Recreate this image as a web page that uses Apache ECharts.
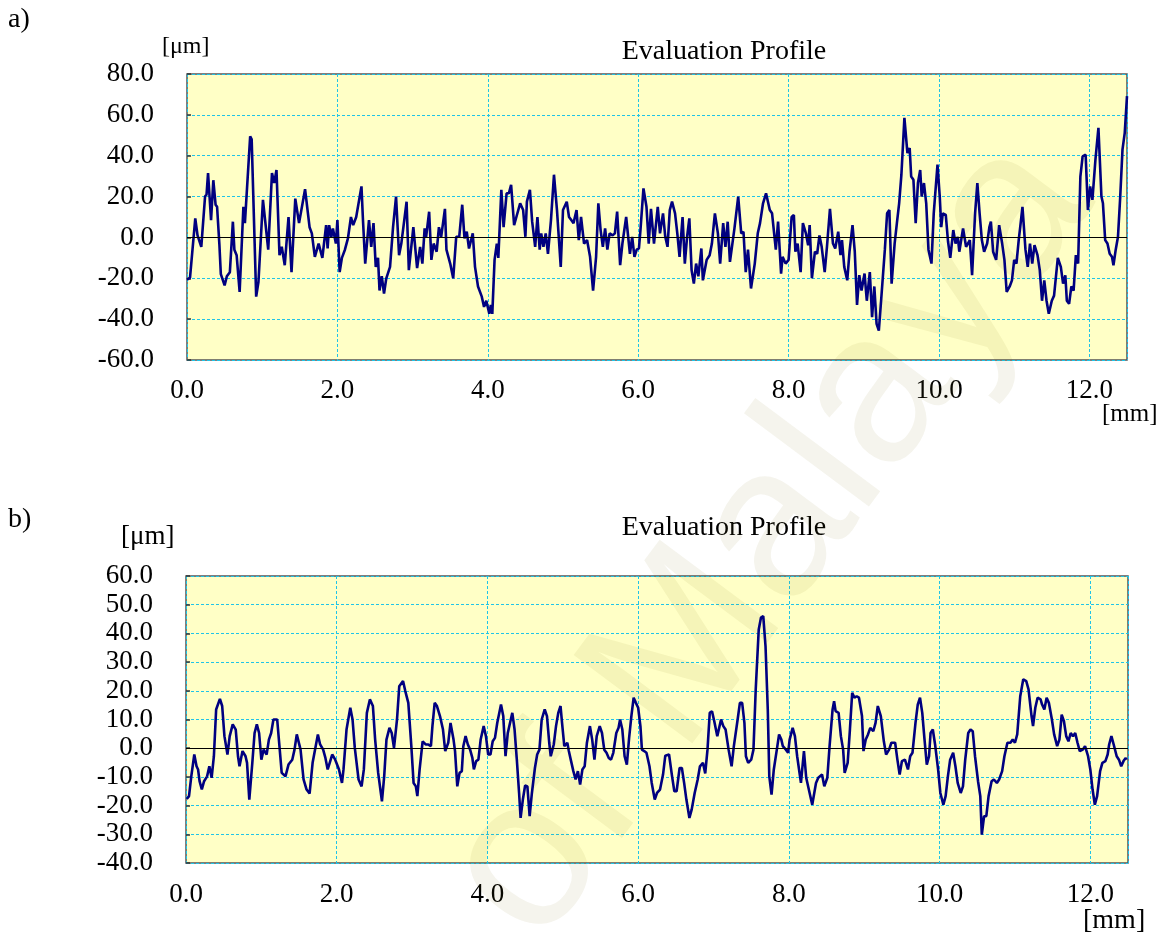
<!DOCTYPE html>
<html><head><meta charset="utf-8">
<script src="https://cdn.jsdelivr.net/npm/echarts@6/dist/echarts.min.js"></script>
<style>html,body{margin:0;padding:0;background:#fff}#c{width:1173px;height:937px}</style>
</head><body><div id="c"></div>
<script>
// Panel a) evaluation profile
const aX = [0.00,0.04,0.11,0.14,0.16,0.19,0.24,0.26,0.28,0.32,0.35,0.38,0.40,0.43,0.45,0.50,0.53,0.57,0.61,0.63,0.66,0.70,0.75,0.77,0.84,0.86,0.92,0.95,1.01,1.08,1.13,1.16,1.19,1.23,1.26,1.30,1.35,1.39,1.44,1.49,1.57,1.63,1.66,1.70,1.75,1.80,1.85,1.87,1.89,1.92,1.94,1.98,2.00,2.03,2.06,2.10,2.14,2.18,2.21,2.25,2.32,2.34,2.37,2.42,2.45,2.48,2.51,2.54,2.56,2.59,2.62,2.65,2.70,2.74,2.78,2.82,2.85,2.92,2.95,3.01,3.06,3.10,3.13,3.16,3.18,3.22,3.25,3.28,3.32,3.35,3.38,3.43,3.45,3.50,3.54,3.58,3.62,3.66,3.69,3.72,3.75,3.80,3.83,3.87,3.92,3.95,3.98,4.02,4.04,4.06,4.09,4.12,4.14,4.18,4.21,4.25,4.28,4.31,4.35,4.38,4.43,4.47,4.50,4.52,4.56,4.59,4.63,4.66,4.69,4.71,4.74,4.77,4.80,4.84,4.88,4.92,4.97,5.00,5.05,5.08,5.11,5.14,5.18,5.21,5.24,5.28,5.32,5.36,5.40,5.44,5.47,5.50,5.53,5.56,5.59,5.62,5.66,5.69,5.72,5.76,5.79,5.84,5.89,5.92,5.95,5.98,6.01,6.03,6.07,6.11,6.14,6.17,6.21,6.26,6.29,6.33,6.36,6.39,6.42,6.45,6.49,6.52,6.55,6.59,6.62,6.65,6.68,6.71,6.74,6.77,6.80,6.84,6.86,6.91,6.95,6.98,7.02,7.06,7.09,7.13,7.16,7.19,7.22,7.28,7.33,7.37,7.40,7.43,7.46,7.50,7.55,7.59,7.62,7.66,7.70,7.75,7.78,7.83,7.86,7.90,7.92,7.96,8.00,8.04,8.07,8.09,8.12,8.16,8.19,8.23,8.26,8.28,8.31,8.35,8.38,8.41,8.44,8.48,8.51,8.55,8.59,8.62,8.66,8.69,8.71,8.74,8.78,8.81,8.85,8.88,8.91,8.94,8.97,9.01,9.04,9.08,9.11,9.14,9.17,9.20,9.23,9.28,9.31,9.34,9.37,9.41,9.44,9.47,9.50,9.54,9.58,9.61,9.63,9.66,9.69,9.72,9.75,9.77,9.80,9.83,9.86,9.90,9.93,9.98,10.01,10.03,10.05,10.09,10.12,10.15,10.19,10.22,10.25,10.27,10.32,10.36,10.41,10.44,10.48,10.51,10.54,10.57,10.60,10.64,10.67,10.69,10.72,10.76,10.80,10.84,10.87,10.90,10.94,10.97,11.00,11.03,11.06,11.08,11.11,11.15,11.18,11.21,11.24,11.27,11.31,11.34,11.37,11.40,11.43,11.46,11.50,11.53,11.58,11.62,11.65,11.68,11.70,11.73,11.76,11.79,11.82,11.85,11.88,11.91,11.95,11.98,12.01,12.04,12.08,12.12,12.16,12.18,12.21,12.24,12.27,12.30,12.32,12.35,12.38,12.41,12.44,12.47,12.50];
const aY = [-20.7,-19.7,9.3,1,0.8,-4.6,20,21,31.5,8.5,28,16,15,-3,-18,-23.5,-19,-17,7.7,-6,-8.7,-26.7,15,7,49.5,48,-29,-21.8,18.4,-6,31.5,26.6,33,-8.7,-4.6,-13.6,10,-17,19,7,23.6,5,2,-9.5,-3,-10,6,-5.4,6,0.3,4.4,-3,8.5,-17,-10,-6,-0.5,10,6,10,25,8.5,-12.8,8.5,-4.6,7,-14.4,-10,-26,-19,-27.5,-20,-14.4,5,20,-8.7,-3,17.5,-16,5,-15,-4.6,-12.8,4.4,0.3,12.6,-11,-3,-7,5,0.3,14,-6,-12.8,-20,0.3,0.3,16,-0.5,2.8,-5.4,2,-14.4,-24,-29,-34,-31,-37.4,-33,-37.4,-11,-3,-10,23.3,5,21.6,21.6,25.7,6,10,16.7,13.4,0.3,17.5,23.3,7.7,-4.6,10,-6,2,-4.6,2,-8,8.5,30.7,13.4,-14.4,13.4,17.5,10,8.5,7,13.4,-1.3,10,-3,-1.3,-9.5,-26,-9.5,16.7,3.6,-4.6,4.4,-6,2,1,2,12.6,-13.6,-3,10,-8,0.3,-9.5,-6,-5.4,3.6,24,15,-3,14,-3,15,2,11.8,0.3,-4.6,13.4,17.5,11.8,2,-9.5,10,-12.8,0.3,9.3,-16,-22.6,-12.8,-19,-5.4,-21,-11,-8.7,-3,11.8,2,-12.8,7,-4.6,7.7,-12,4.4,20,2,2.8,-17,-6,-25,-12.8,2,7,16.7,21.6,13.4,11.8,-6,7.7,-17.7,-9.5,-12.8,-11,10,11,-7,-3,-17,7,2,-3.8,6,-20,-7,-8,1,-4.6,-17,-4.6,14,-3,-5.4,2.8,-8.7,-1.3,-14.4,-21,-7,6,-7,-33,-18.5,-26,-17.7,-31,-17,-39,-24,-42.3,-45.6,-31,-6,11.8,13.4,-22.6,-3,7,16.7,30.7,58.5,41.3,43.8,29.8,28.2,7,26.6,33,20,26.6,16.7,-6,-12.8,11.8,35.6,20,5,11.8,11,-2,-10,3.6,-3,0.3,-7,4.4,-4.6,-1.3,-18.5,11.8,26.6,11.8,-1.3,-7,-3,5,7.7,-7,-11,6,-3,-11,-26.7,-24,-21,-11,-12.8,-1.3,5,15,-6,-14.4,-3,-12.8,-3.8,-8.7,-16,-31,-21,-31,-37.4,-31,-28.5,-10,-14.4,-22.6,-18.5,-31,-32.5,-24,-26,-8.7,-12.8,29.8,39.7,40.5,13.4,25,18.4,38,53.6,20,16.7,-1.3,-3,-8,-9.5,-13.6,-6,0.3,20,43,51.2,69.2];

// Panel b) evaluation profile
const bX = [0.01,0.04,0.07,0.11,0.14,0.16,0.18,0.21,0.24,0.28,0.31,0.34,0.37,0.40,0.45,0.48,0.51,0.55,0.58,0.62,0.66,0.69,0.71,0.75,0.79,0.81,0.84,0.88,0.91,0.94,0.97,1.00,1.03,1.07,1.10,1.13,1.16,1.21,1.24,1.27,1.32,1.36,1.41,1.44,1.47,1.52,1.56,1.60,1.64,1.68,1.75,1.78,1.82,1.85,1.88,1.90,1.94,1.98,2.00,2.03,2.07,2.09,2.13,2.18,2.21,2.24,2.29,2.33,2.36,2.40,2.44,2.48,2.51,2.55,2.60,2.63,2.66,2.70,2.73,2.76,2.80,2.83,2.88,2.91,2.95,2.99,3.02,3.05,3.07,3.10,3.14,3.18,3.21,3.25,3.27,3.30,3.33,3.37,3.41,3.44,3.48,3.51,3.55,3.57,3.60,3.63,3.66,3.68,3.71,3.74,3.77,3.80,3.82,3.85,3.88,3.91,3.95,3.98,4.01,4.04,4.07,4.10,4.13,4.18,4.21,4.24,4.27,4.33,4.36,4.39,4.42,4.44,4.47,4.50,4.53,4.56,4.59,4.63,4.66,4.69,4.72,4.76,4.79,4.82,4.84,4.88,4.91,4.94,4.97,4.99,5.02,5.06,5.08,5.11,5.14,5.17,5.20,5.23,5.26,5.29,5.32,5.36,5.39,5.42,5.45,5.49,5.52,5.55,5.58,5.61,5.64,5.67,5.71,5.74,5.76,5.79,5.82,5.85,5.88,5.91,5.94,5.97,6.00,6.03,6.05,6.08,6.11,6.15,6.18,6.22,6.25,6.29,6.33,6.36,6.41,6.45,6.48,6.51,6.55,6.58,6.61,6.64,6.68,6.71,6.75,6.79,6.82,6.86,6.89,6.92,6.95,6.98,7.01,7.05,7.07,7.10,7.13,7.16,7.20,7.24,7.27,7.32,7.35,7.38,7.41,7.43,7.46,7.50,7.53,7.56,7.60,7.63,7.66,7.69,7.72,7.74,7.77,7.80,7.84,7.87,7.90,7.92,7.96,7.99,8.01,8.05,8.08,8.11,8.16,8.20,8.23,8.27,8.31,8.36,8.39,8.44,8.47,8.51,8.54,8.58,8.60,8.62,8.66,8.69,8.72,8.74,8.78,8.81,8.84,8.87,8.90,8.93,8.97,8.99,9.02,9.05,9.08,9.12,9.15,9.18,9.22,9.26,9.29,9.33,9.36,9.41,9.44,9.47,9.50,9.54,9.58,9.61,9.64,9.68,9.71,9.74,9.77,9.80,9.83,9.86,9.88,9.91,9.94,9.98,10.01,10.05,10.08,10.11,10.14,10.18,10.21,10.24,10.28,10.31,10.34,10.38,10.41,10.44,10.47,10.51,10.54,10.56,10.59,10.62,10.65,10.69,10.72,10.76,10.79,10.83,10.86,10.90,10.94,10.97,11.00,11.03,11.07,11.11,11.15,11.18,11.22,11.24,11.27,11.30,11.34,11.36,11.39,11.42,11.45,11.49,11.52,11.56,11.59,11.62,11.65,11.68,11.71,11.74,11.77,11.80,11.83,11.86,11.90,11.93,11.97,12.00,12.03,12.06,12.09,12.13,12.16,12.20,12.23,12.25,12.28,12.31,12.35,12.38,12.41,12.44,12.47,12.48];
const bY = [-17.7,-16.7,-9.8,-2.2,-6.3,-7.4,-11.5,-14.4,-11.5,-9.8,-6.3,-10.3,-2.8,13.5,17.2,14.7,4.2,-2.2,4.2,8.3,6.5,-2.8,-6.3,-1,-2.8,-5.1,-17.9,-5.1,5.3,8.3,5.3,-4,-0.5,-2.2,3,5.3,10,10,0.7,-8.6,-9.8,-5.7,-4,-0.5,4.8,-0.5,-10.9,-14.4,-15.8,-5.1,4.8,1.3,-0.5,-3.4,-7.4,-5.7,-2.2,-4,-4.5,-7.4,-12.1,-7.4,6.5,14.1,10,0.1,-10.9,-13.3,-7.4,12.3,17,14.7,3,-8.6,-18.5,-9.8,3,7.1,5.3,0.1,10,21.6,23.4,19.9,15.8,0.7,-12.1,-13.3,-16.7,-7.4,2.4,1.3,1.3,0.7,7.7,15.8,14.7,11.2,6.5,-1,1.9,8.8,3,-1,-13.3,-8.6,-8,0.7,4.2,1.3,-0.5,-3.4,-7.4,-4.5,-4,3,7.7,4.2,-2.2,-2.2,2.4,3.6,8.8,15.2,11.2,-2.8,5.3,12.3,6.5,-4,-15.6,-24.3,-17.9,-13,-13.3,-23.7,-15.6,-6.9,-2.2,-0.5,10,13.5,11.2,1.9,-2.8,1.3,7.7,12.3,14.7,8.8,0.7,1.9,-1,-4.5,-8,-10.9,-8,-12.7,-7.4,-6.3,1.9,7.7,3,-4,4.2,7.7,5.3,-0.5,-1.6,-3.4,-4,-1.6,5.3,7.1,10,6.5,-2.8,-5.7,3.6,11.2,17.6,15.8,14.1,7.7,-0.5,-1,-1.6,-6.3,-12.1,-17.9,-15.6,-14.4,-9.2,-2.6,-2.2,-9.8,-15,-15,-6.9,-6.9,-12.1,-17.9,-24.3,-21.4,-15.6,-10.9,-6.3,-5.1,-8.8,-0.5,12.3,12.9,9.4,4.2,3.6,10,7.7,6.5,-0.5,-6.3,0.7,10,15.8,15.8,8.8,-2.8,-5.1,-4,-0.5,20.5,41.4,45.5,46,35.6,13.5,-9.8,-16.2,-7.4,-0.5,4.8,3,0.7,-0.5,-1.6,3,7.1,4.2,-2.8,-12.1,-1,-10.3,-15,-19.7,-12.1,-10.3,-9.2,-13.3,-10.3,0.7,13.5,16.4,12.9,12.3,4.2,-0.5,-8.6,-5.1,6.5,19.3,17.6,18.1,17.6,11.2,-1,3,4.8,7.1,5.9,8.8,14.7,11.2,2.4,-2.2,-0.5,1.9,1.9,-4,-9.2,-4.5,-4,-7.4,-2.8,-1.6,8.8,15.2,17.6,12.3,3,-5.7,-2.8,5.3,6.5,1.3,-7.4,-15.6,-19.7,-16.7,-9.8,-4,-1.6,-6.3,-12.1,-15.6,-13.3,-4,5.3,6.5,5.9,-2.8,-11.5,-16.7,-30.1,-23.7,-23.7,-16.7,-11.5,-10.9,-12.1,-10.9,-8,-2.8,1.9,1.9,3,1.9,4.8,18.1,24,23.4,20.5,11.2,7.7,14.1,17.6,17,15.2,13.5,17.6,15.8,10,4.8,0.7,3,11.7,9.4,4.2,2.4,5.3,4.2,5.3,1.9,-1,-0.5,0.7,-2.8,-7.4,-14.4,-19.7,-16.7,-8,-5.1,-4.5,-2.2,1.3,4.2,1.3,-2.8,-4,-6.3,-4.5,-3.4,-4];

const xTicks = [0, 2, 4, 6, 8, 10, 12];
const aYRange = [-60, 80];
const bYRange = [-40, 60];
const titleText = 'Evaluation Profile';

const FONT = 'Liberation Serif';
const pair = (xs, ys) => xs.map((x, i) => [x, ys[i]]);

function xAxisDef(idx, margin) {
  return {
    type: 'value', gridIndex: idx, min: 0, max: 12.5, interval: 2,
    axisLine: { show: false }, axisTick: { show: false },
    axisLabel: { margin: margin, fontFamily: FONT, fontSize: 27, color: '#000',
      showMaxLabel: false,
      formatter: v => (xTicks.indexOf(v) >= 0 ? v.toFixed(1) : '') },
    splitLine: { show: true, lineStyle: { color: '#1fc4e8', type: [3, 2], width: 1 } }
  };
}
function yAxisDef(idx, range, step) {
  return {
    type: 'value', gridIndex: idx, min: range[0], max: range[1], interval: step,
    axisLine: { show: false },
    axisTick: { show: true, inside: true, length: 4, lineStyle: { color: '#333', width: 1.5 } },
    axisLabel: { margin: 33, fontFamily: FONT, fontSize: 27, color: '#000',
      formatter: v => v.toFixed(1) },
    splitLine: { show: true, lineStyle: { color: '#1fc4e8', type: [3, 2], width: 1 } }
  };
}
function lineSeries(idx, data) {
  return {
    type: 'line', xAxisIndex: idx, yAxisIndex: idx, data: data,
    showSymbol: false, symbol: 'none', z: 3,
    lineStyle: { color: '#000080', width: 2.6 },
    animation: false,
    markLine: { silent: true, symbol: 'none', label: { show: false },
      lineStyle: { color: '#000', type: 'solid', width: 1 },
      data: [{ yAxis: 0 }] }
  };
}

const chart = echarts.init(document.getElementById('c'), null, { renderer: 'canvas' });
chart.setOption({
  backgroundColor: '#ffffff',
  animation: false,
  grid: [
    { left: 187, top: 74, width: 940, height: 286, show: true, backgroundColor: '#ffffc6', borderColor: '#555', borderWidth: 1.5 },
    { left: 186, top: 576, width: 942, height: 287, show: true, backgroundColor: '#ffffc6', borderColor: '#555', borderWidth: 1.5 }
  ],
  xAxis: [xAxisDef(0, 17), xAxisDef(1, 18)],
  yAxis: [yAxisDef(0, aYRange, 20), yAxisDef(1, bYRange, 10)],
  series: [lineSeries(0, pair(aX, aY)), lineSeries(1, pair(bX, bY))],
  graphic: [
    { type: 'text', x: 770, y: 540, rotation: 0.93, z: 1, silent: true,
      style: { text: 'of Malaya', font: '215px "Liberation Sans"', fill: 'rgba(120,110,20,0.075)', align: 'center', verticalAlign: 'middle' } },
    { type: 'text', left: 8, top: 6, style: { text: 'a)', font: '28px "Liberation Serif"', fill: '#000' } },
    { type: 'text', left: 8, top: 506, style: { text: 'b)', font: '28px "Liberation Serif"', fill: '#000' } },
    { type: 'text', x: 724, y: 52, style: { text: titleText, font: '28px "Liberation Serif"', fill: '#000', align: 'center', verticalAlign: 'middle' } },
    { type: 'text', x: 724, y: 528, style: { text: titleText, font: '28px "Liberation Serif"', fill: '#000', align: 'center', verticalAlign: 'middle' } },
    { type: 'text', x: 162, y: 47, style: { text: '[μm]', font: '24px "Liberation Serif"', fill: '#000', align: 'left', verticalAlign: 'middle' } },
    { type: 'text', x: 121, y: 537, style: { text: '[μm]', font: '27px "Liberation Serif"', fill: '#000', align: 'left', verticalAlign: 'middle' } },
    { type: 'text', x: 1102, y: 414, style: { text: '[mm]', font: '25px "Liberation Serif"', fill: '#000', align: 'left', verticalAlign: 'middle' } },
    { type: 'text', x: 1083, y: 921, style: { text: '[mm]', font: '28px "Liberation Serif"', fill: '#000', align: 'left', verticalAlign: 'middle' } }
  ]
});
</script>
</body></html>
